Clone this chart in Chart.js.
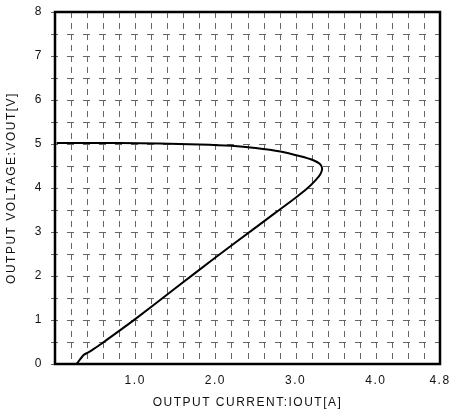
<!DOCTYPE html>
<html>
<head>
<meta charset="utf-8">
<script src="https://cdn.jsdelivr.net/npm/chart.js@4/dist/chart.umd.min.js"></script>
<style>
  html, body { margin: 0; padding: 0; background: #fff; }
  #wrap { width: 454px; height: 414px; }
</style>
</head>
<body>
<div id="wrap"><canvas id="ivChart" width="454" height="414"></canvas></div>
<script>
// output current (A) and voltage (V) along the foldback curve
const currentA = [0.27, 0.31, 0.36, 0.41, 0.48, 0.57, 1.0, 1.5, 2.0, 2.5, 2.75, 3.0, 3.15, 3.25, 3.31, 3.33, 3.30, 3.22, 3.06, 2.81, 2.5, 2.2, 1.8, 1.3, 0.8, 0.3, 0.02];
const voltageV = [0.0, 0.1, 0.21, 0.26, 0.34, 0.45, 1.02, 1.72, 2.42, 3.1, 3.44, 3.78, 4.0, 4.18, 4.32, 4.45, 4.55, 4.63, 4.72, 4.83, 4.91, 4.96, 4.99, 5.01, 5.02, 5.02, 5.02];

const xTickLabels = ["1.0", "2.0", "3.0", "4.0", "4.8"];
const yTickLabels = ["0", "1", "2", "3", "4", "5", "6", "7", "8"];

const points = currentA.map((x, i) => ({ x: x, y: voltageV[i] }));

function pickLabel(list, v) {
  const hit = list.find(l => Math.abs(parseFloat(l) - v) < 1e-6);
  return hit || "";
}

// dashed grid at every tick, spaced lettering and a heavy frame
const gridFramePlugin = {
  id: "gridFrame",
  beforeLayout(chart) { chart.ctx.letterSpacing = "1.5px"; },
  beforeDraw(chart) { chart.ctx.letterSpacing = "1.5px"; },
  beforeDatasetsDraw(chart) {
    const { ctx, chartArea: a, scales } = chart;
    ctx.save();
    ctx.strokeStyle = "#666";
    ctx.lineWidth = 1;
    ctx.setLineDash([6, 5]);
    scales.x.ticks.forEach(t => {
      const px = Math.round(scales.x.getPixelForValue(t.value)) + 0.5;
      ctx.beginPath();
      ctx.moveTo(px, a.top);
      ctx.lineTo(px, a.bottom);
      ctx.stroke();
    });
    ctx.setLineDash([7, 9]);
    scales.y.ticks.forEach(t => {
      const py = Math.round(scales.y.getPixelForValue(t.value)) + 0.5;
      ctx.beginPath();
      ctx.moveTo(a.left - 4, py);
      ctx.lineTo(a.right, py);
      ctx.stroke();
    });
    ctx.restore();
  },
  afterDraw(chart) {
    const { ctx, chartArea: a } = chart;
    ctx.save();
    ctx.strokeStyle = "#000";
    ctx.lineWidth = 2.5;
    ctx.strokeRect(a.left, a.top, a.right - a.left, a.bottom - a.top);
    ctx.restore();
  }
};

const labelFont = { family: "'Liberation Sans', Arial, sans-serif", size: 12 };

new Chart(document.getElementById("ivChart"), {
  type: "scatter",
  data: {
    datasets: [{
      data: points,
      showLine: true,
      borderColor: "#000",
      borderWidth: 2,
      pointRadius: 0,
      tension: 0.2,
      fill: false
    }]
  },
  options: {
    responsive: false,
    animation: false,
    layout: { padding: { top: 12, right: 14, left: 0, bottom: 0 } },
    plugins: { legend: { display: false }, tooltip: { enabled: false } },
    scales: {
      x: {
        type: "linear",
        min: 0,
        max: 4.8,
        afterFit(scale) {
          scale.height = 50;
          scale.paddingLeft = 0;
          scale.paddingRight = 0;
        },
        grid: { display: false, drawTicks: false },
        border: { display: false },
        ticks: {
          stepSize: 0.2,
          autoSkip: false,
          maxRotation: 0,
          padding: 9,
          color: "#111",
          font: labelFont,
          callback: v => pickLabel(xTickLabels, v)
        },
        title: {
          display: true,
          text: "OUTPUT CURRENT:IOUT[A]",
          color: "#111",
          font: labelFont,
          padding: { top: 4, bottom: 4 }
        }
      },
      y: {
        type: "linear",
        min: 0,
        max: 8,
        afterFit(scale) {
          scale.width = 55;
          scale.paddingTop = 0;
          scale.paddingBottom = 0;
        },
        grid: { display: false, drawTicks: false },
        border: { display: false },
        ticks: {
          stepSize: 0.5,
          autoSkip: false,
          padding: 12,
          color: "#111",
          font: labelFont,
          callback: v => pickLabel(yTickLabels, v)
        },
        title: {
          display: true,
          text: "OUTPUT VOLTAGE:VOUT[V]",
          color: "#111",
          font: labelFont,
          padding: { top: 4, bottom: 4 }
        }
      }
    }
  },
  plugins: [gridFramePlugin]
});
</script>
</body>
</html>
